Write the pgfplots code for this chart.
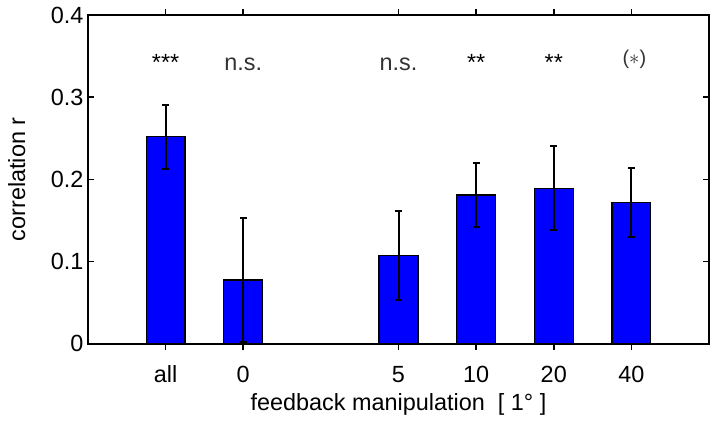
\documentclass[border=0pt]{standalone}
\usepackage{pgfplots}
\pgfplotsset{compat=1.18}
\usepackage{fontspec}
\setmainfont{Liberation Sans}
\definecolor{nsgray}{gray}{0.2}
\begin{document}
\begin{tikzpicture}
\begin{axis}[
  scale only axis,
  width=621bp, height=328.7bp,
  xmin=0, xmax=8, ymin=0, ymax=0.4,
  xtick={1,2,4,5,6,7},
  xticklabels={all,0,5,10,20,40},
  ytick={0,0.1,0.2,0.3,0.4},
  yticklabels={0,0.1,0.2,0.3,0.4},
  /pgf/number format/assume math mode=true,
  font=\fontsize{23.5}{27}\selectfont,
  tick label style={font=\fontsize{23.5}{27}\selectfont},
  label style={font=\fontsize{23.5}{27}\selectfont},
  tick align=inside,
  major tick length=6bp,
  xtick pos=both, ytick pos=both,
  axis line style={line width=1.6bp},
  every tick/.style={black, line width=1.6bp},
  xticklabel style={anchor=base, yshift=-32.3bp},
  yticklabel style={anchor=east, xshift=-1bp},
  xlabel={feedback manipulation\ \ [ 1° ]},
  ylabel={correlation r},
  xlabel style={at={(axis description cs:0.5,0)}, anchor=base, yshift=-66.8bp},
  ylabel style={at={(axis description cs:-0.1014,0.5)}, anchor=base},
  ybar, bar width=0.5,
  clip=false,
]
\addplot[fill={rgb,1:red,0;green,0;blue,1}, draw=black, line width=1.2bp,
  error bars/.cd, y dir=both, y explicit,
  error bar style={line width=2bp, black},
  error mark options={rotate=90, line width=2bp, mark size=3.5bp, black}]
  coordinates {
  (1,0.252) +- (0,0.039)
  (2,0.0775) +- (0,0.075)
  (4,0.107) +- (0,0.054)
  (5,0.181) +- (0,0.039)
  (6,0.189) +- (0,0.051)
  (7,0.172) +- (0,0.042)
  };
\node[anchor=base] at (axis cs:1,0.333) {***};
\node[anchor=base, text=nsgray] at (axis cs:2,0.333) {n.s.};
\node[anchor=base, text=nsgray] at (axis cs:4,0.333) {n.s.};
\node[anchor=base] at (axis cs:5,0.333) {**};
\node[anchor=base] at (axis cs:6,0.333) {**};
\node[anchor=center, text=nsgray, xshift=3bp] at (axis cs:7,0.346) {\fontsize{20}{22}\selectfont($\ast$)};
\end{axis}
\path ([xshift=-88bp,yshift=-80.3bp]current axis.south west) rectangle ([xshift=7bp,yshift=15bp]current axis.north east);
\end{tikzpicture}
\end{document}
